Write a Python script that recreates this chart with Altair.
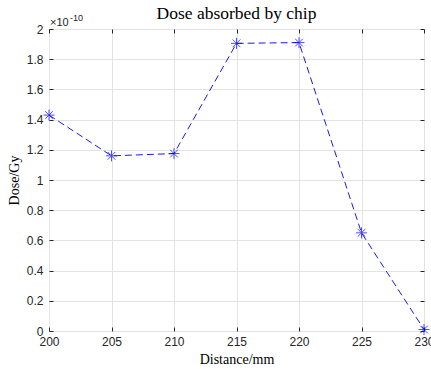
import altair as alt
import pandas as pd

distance_mm = [200, 205, 210, 215, 220, 225, 230]
dose_e10_gy = [1.43, 1.16, 1.175, 1.905, 1.91, 0.65, 0.01]
x_ticks = [200, 205, 210, 215, 220, 225, 230]
y_ticks = [0, 0.2, 0.4, 0.6, 0.8, 1.0, 1.2, 1.4, 1.6, 1.8, 2.0]
title_text = "Dose absorbed by chip"
x_title = "Distance/mm"
y_title = "Dose/Gy"
mult_base = "\u00d710"
mult_exp = "-10"

df = pd.DataFrame({"d": distance_mm, "v": dose_e10_gy})

AX = "#262626"
SERIF = "Liberation Serif"
SANS = "Liberation Sans"
ASTERISK = "M-1,0L1,0M0,-1L0,1M-0.7,-0.7L0.7,0.7M-0.7,0.7L0.7,-0.7"

xscale = alt.Scale(domain=[200, 230], nice=False, zero=False)
yscale = alt.Scale(domain=[0, 2], nice=False, zero=False)

x_main = alt.X("d:Q", scale=xscale, title=x_title,
               axis=alt.Axis(values=x_ticks, grid=True, gridColor="#e3e3e3", domain=False,
                             tickSize=4, offset=-4, tickColor=AX, labelPadding=5,
                             labelFlush=False,
                             labelFont=SANS, labelFontSize=12, labelColor=AX,
                             titleFont=SERIF, titleFontSize=14, titleFontWeight="normal",
                             titleColor="black", titlePadding=5))
y_main = alt.Y("v:Q", scale=yscale, title=y_title,
               axis=alt.Axis(values=y_ticks, format="~g", grid=True, gridColor="#e3e3e3",
                             domain=False, tickSize=4, offset=-4, tickColor=AX, labelPadding=6,
                             labelFlush=False,
                             labelFont=SANS, labelFontSize=12, labelColor=AX,
                             titleFont=SERIF, titleFontSize=14, titleFontWeight="normal",
                             titleColor="black", titlePadding=5))

line = alt.Chart(df).mark_line(color="#1a1ae6", strokeWidth=1, strokeDash=[7, 4]).encode(
    x=x_main, y=y_main)

x_top = alt.X("d:Q", scale=xscale, title=None,
              axis=alt.Axis(orient="top", values=x_ticks, grid=False, domain=False, labels=False,
                            tickSize=4, offset=-4, tickColor=AX))
y_right = alt.Y("v:Q", scale=yscale, title=None,
                axis=alt.Axis(orient="right", values=y_ticks, grid=False, domain=False,
                              labels=False, tickSize=4, offset=-4, tickColor=AX))

pts = alt.Chart(df).mark_point(shape=ASTERISK, size=120, color="#0000ff", filled=False,
                               strokeWidth=1).encode(x=x_top, y=y_right)

mult = alt.Chart(pd.DataFrame({"t": [mult_base]})).mark_text(
    font=SANS, fontSize=11, color=AX, align="left", baseline="alphabetic").encode(
    text="t:N", x=alt.value(1), y=alt.value(-3))
mult_e = alt.Chart(pd.DataFrame({"t": [mult_exp]})).mark_text(
    font=SANS, fontSize=9, color=AX, align="left", baseline="alphabetic").encode(
    text="t:N", x=alt.value(21), y=alt.value(-8))

chart = alt.layer(line, pts, mult, mult_e).resolve_axis(x="independent", y="independent").properties(
    width=375, height=302,
    title=alt.TitleParams(title_text, font=SERIF, fontSize=17.5, fontWeight="normal",
                          color="black", anchor="middle", offset=-8),
    autosize=alt.AutoSizeParams(type="none"),
    padding={"left": 49, "top": 29, "right": 7, "bottom": 38},
).configure_view(stroke=AX, strokeWidth=1).configure(background="white")

chart.save("out.html", embed_options={"renderer": "svg", "actions": False})
